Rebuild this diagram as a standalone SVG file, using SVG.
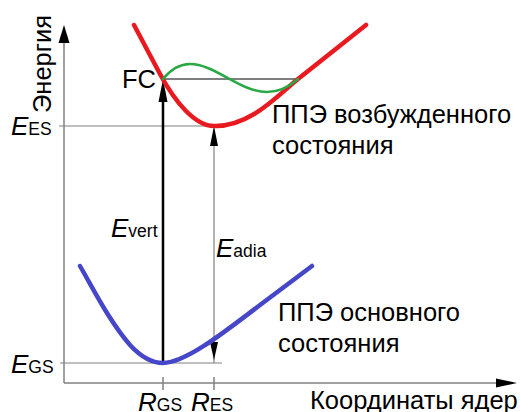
<svg xmlns="http://www.w3.org/2000/svg" width="520" height="412" viewBox="0 0 520 412">
<style>
text{font-family:"Liberation Sans",Arial,sans-serif;fill:#000}
.lbl{font-size:25.5px}
.E{font-size:26px;font-style:italic}
.sub{font-size:17.5px;font-style:normal}
.axis{stroke:#808080;stroke-width:1.5;fill:none}
.guide{stroke:#808080;stroke-width:1.2;fill:none}
.thin{stroke:#000;stroke-width:1;fill:none}
.curve{fill:none;stroke-linecap:round;stroke-linejoin:round}
</style>
<rect width="520" height="412" fill="#fff"/>
<g id="axes">
<line class="axis" x1="64" y1="40" x2="64" y2="383"/>
<line class="axis" x1="64" y1="383" x2="500" y2="383"/>
<polygon points="64,25 58.5,43 69.5,43" fill="#000"/>
<polygon points="517,383 496,378.5 496,387.5" fill="#000"/>
<line class="axis" x1="163" y1="377" x2="163" y2="390"/>
<line class="axis" x1="214" y1="377" x2="214" y2="390"/>
</g>
<g id="connectors">
<line class="guide" x1="59" y1="126" x2="216" y2="126"/>
<line class="guide" x1="60" y1="363" x2="222" y2="363"/>
<line class="thin" x1="163" y1="79" x2="298" y2="79"/>
<line class="guide" x1="214" y1="140" x2="214" y2="363"/>
<polygon points="214,126 210,146 218,146" fill="#000"/>
<polygon points="214,360 210,342 218,342" fill="#000"/>
<line x1="163" y1="363" x2="163" y2="96" stroke="#000" stroke-width="2.5"/>
<polygon points="163,79 158.5,102 167.5,102" fill="#000"/>
</g>
<g id="excited">
<path class="curve" d="M134,25 L160,74 C175,102 195,126 214,126 C250,127 278,95 298,79 L366,25" stroke="#e8191f" stroke-width="4.5"/>
</g>
<g id="fc-path">
<path class="curve" d="M163,79 C172,68 180,64 190,64 C215,64 240,92 267,92 C280,92 290,86 298,79" stroke="#2aa845" stroke-width="2.5"/>
</g>
<g id="ground">
<path class="curve" d="M80,266 C95,292 110,322 130,345 C142,358 152,363 163,363 C185,363 222,334 260,305 L312,266" stroke="#4646c8" stroke-width="4.5"/>
</g>
<g id="labels">
<text class="lbl" transform="translate(51,113) rotate(-90)">Энергия</text>
<text class="lbl" x="122" y="88">FC</text>
<text class="E" x="11" y="135">E<tspan class="sub">ES</tspan></text>
<text class="E" x="11" y="373">E<tspan class="sub">GS</tspan></text>
<text class="E" x="111" y="237">E<tspan class="sub">vert</tspan></text>
<text class="E" x="216" y="257">E<tspan class="sub">adia</tspan></text>
<text class="E" x="138" y="411">R<tspan class="sub">GS</tspan></text>
<text class="E" x="191" y="411">R<tspan class="sub">ES</tspan></text>
<text class="lbl" x="272" y="123">ППЭ возбужденного</text>
<text class="lbl" x="272" y="154">состояния</text>
<text class="lbl" x="278" y="321">ППЭ основного</text>
<text class="lbl" x="278" y="352">состояния</text>
<text class="lbl" x="310" y="409">Координаты ядер</text>
</g>
</svg>
